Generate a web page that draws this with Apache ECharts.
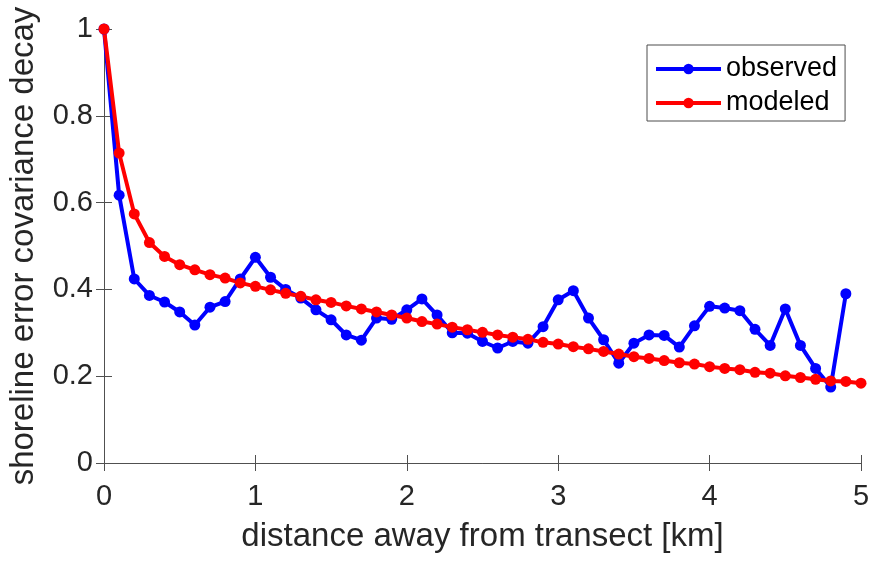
<!DOCTYPE html>
<html>
<head>
<meta charset="utf-8">
<script src="https://cdn.jsdelivr.net/npm/echarts@6/dist/echarts.min.js"></script>
<style>
  html, body { margin: 0; padding: 0; background: #fff; }
  #chart { width: 870px; height: 561px; }
</style>
</head>
<body>
<div id="chart"></div>
<script>
// Distance from the transect (km) at which each decay value is sampled
const distanceKm = [
  0.0, 0.1, 0.2, 0.3, 0.4, 0.5, 0.6, 0.7, 0.8, 0.9,
  1.0, 1.1, 1.2, 1.3, 1.4, 1.5, 1.6, 1.7, 1.8, 1.9,
  2.0, 2.1, 2.2, 2.3, 2.4, 2.5, 2.6, 2.7, 2.8, 2.9,
  3.0, 3.1, 3.2, 3.3, 3.4, 3.5, 3.6, 3.7, 3.8, 3.9,
  4.0, 4.1, 4.2, 4.3, 4.4, 4.5, 4.6, 4.7, 4.8, 4.9,
  5.0
];

// Observed shoreline error covariance decay (0 to 4.9 km)
const observed = [
  1.0, 0.617, 0.424, 0.386, 0.371, 0.348, 0.318, 0.359, 0.372, 0.424,
  0.474, 0.428, 0.400, 0.380, 0.353, 0.330, 0.295, 0.283, 0.334, 0.331,
  0.353, 0.378, 0.341, 0.300, 0.299, 0.280, 0.265, 0.280, 0.276, 0.314,
  0.376, 0.397, 0.334, 0.284, 0.230, 0.276, 0.295, 0.294, 0.267, 0.316,
  0.361, 0.357, 0.351, 0.308, 0.271, 0.355, 0.271, 0.218, 0.175, 0.390
];

// Modeled decay (0 to 5 km)
const modeled = [
  1.0, 0.714, 0.574, 0.508, 0.476, 0.457, 0.445, 0.434, 0.426, 0.415,
  0.407, 0.399, 0.391, 0.384, 0.376, 0.370, 0.362, 0.355, 0.348, 0.341,
  0.334, 0.326, 0.320, 0.313, 0.307, 0.301, 0.295, 0.290, 0.285, 0.278,
  0.274, 0.268, 0.263, 0.257, 0.251, 0.245, 0.241, 0.236, 0.231, 0.228,
  0.222, 0.218, 0.215, 0.209, 0.207, 0.201, 0.197, 0.193, 0.189, 0.188,
  0.184
];

const xTicks = { min: 0, max: 5, interval: 1 };
const yTicks = { min: 0, max: 1, interval: 0.2 };

const pairs = (vals) => vals.map((v, i) => [distanceKm[i], v]);

const FONT = '"Liberation Sans", Arial, Helvetica, sans-serif';
const TEXT = '#262626';
const AXIS = '#505050';

const axisLineStyle = { show: true, lineStyle: { color: AXIS, width: 1 } };
const innerTick = { show: true, inside: true, length: 8, lineStyle: { color: AXIS, width: 1 } };

const chart = echarts.init(document.getElementById('chart'), null, { renderer: 'canvas' });

chart.setOption({
  animation: false,
  backgroundColor: '#ffffff',
  textStyle: { fontFamily: FONT, color: TEXT },
  grid: { left: 104, right: 9, top: 29, bottom: 98, outerBoundsMode: 'none' },
  legend: {
    orient: 'vertical',
    left: 647,
    top: 45,
    padding: [9, 8, 3, 7],
    itemWidth: 65,
    itemHeight: 13,
    itemGap: 4,
    borderColor: '#4d4d4d',
    borderWidth: 1,
    backgroundColor: '#ffffff',
    lineStyle: { width: 4 },
    textStyle: { fontFamily: FONT, fontSize: 27, color: '#000', lineHeight: 30, padding: [0, 0, 0, 0] },
    data: ['observed', 'modeled']
  },
  xAxis: [
    {
      type: 'value',
      position: 'bottom',
      ...xTicks,
      name: 'distance away from transect [km]',
      nameLocation: 'middle',
      nameGap: 57,
      nameTextStyle: { fontFamily: FONT, fontSize: 33, color: TEXT },
      axisLine: axisLineStyle,
      axisTick: innerTick,
      splitLine: { show: false },
      axisLabel: { fontFamily: FONT, fontSize: 29, color: TEXT, margin: 19 }
    },
    {
      type: 'value',
      position: 'top',
      ...xTicks,
      axisLine: axisLineStyle,
      axisTick: innerTick,
      splitLine: { show: false },
      axisLabel: { show: false }
    }
  ],
  yAxis: [
    {
      type: 'value',
      position: 'left',
      ...yTicks,
      name: 'shoreline error covariance decay',
      nameLocation: 'middle',
      nameGap: 64,
      nameTextStyle: { fontFamily: FONT, fontSize: 33, color: TEXT },
      axisLine: axisLineStyle,
      axisTick: innerTick,
      splitLine: { show: false },
      axisLabel: { fontFamily: FONT, fontSize: 29, color: TEXT, margin: 11 }
    },
    {
      type: 'value',
      position: 'right',
      ...yTicks,
      axisLine: axisLineStyle,
      axisTick: innerTick,
      splitLine: { show: false },
      axisLabel: { show: false }
    }
  ],
  series: [
    {
      name: 'observed',
      type: 'line',
      xAxisIndex: 0,
      yAxisIndex: 0,
      data: pairs(observed),
      symbol: 'circle',
      symbolSize: 11,
      clip: false,
      color: '#0000ff',
      lineStyle: { color: '#0000ff', width: 4 },
      itemStyle: { color: '#0000ff' }
    },
    {
      name: 'modeled',
      type: 'line',
      xAxisIndex: 0,
      yAxisIndex: 0,
      data: pairs(modeled),
      symbol: 'circle',
      symbolSize: 11,
      clip: false,
      color: '#ff0000',
      lineStyle: { color: '#ff0000', width: 4 },
      itemStyle: { color: '#ff0000' }
    }
  ]
});
</script>
</body>
</html>
